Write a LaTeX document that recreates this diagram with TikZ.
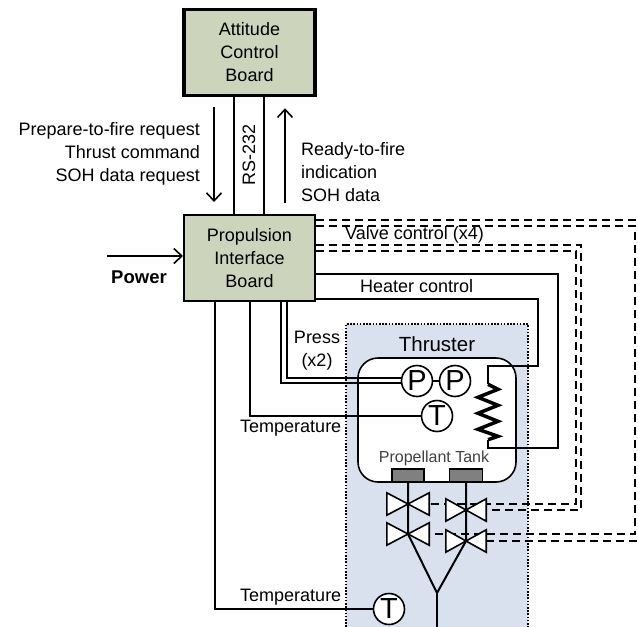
\documentclass[tikz,border=0pt]{standalone}
\usepackage{fontspec}
\setmainfont{Liberation Sans}
\usetikzlibrary{arrows.meta}
\definecolor{boardfill}{RGB}{205,212,188}
\definecolor{panelfill}{RGB}{217,225,238}
\definecolor{tankfill}{RGB}{128,128,128}

\begin{document}
\begin{tikzpicture}[x=1pt,y=-1pt,>={Straight Barb[length=8pt,width=15pt]},
  board/.style={draw,fill=boardfill,minimum width=131pt,minimum height=86pt,inner sep=0pt,
    align=center,font=\fontsize{18}{23}\selectfont},
  wire/.style={line width=2pt},
  ctrl/.style={line width=2pt,dash pattern=on 8pt off 5pt},
  sensor/.style={circle,draw,fill=white,line width=1.6pt,minimum size=31pt,inner sep=0pt,
    font=\fontsize{29}{29}\selectfont},
  valve/.style={minimum width=40pt,minimum height=22pt,inner sep=0pt},
  tank/.style={draw,line width=1.5pt,fill=tankfill,minimum height=13pt,inner sep=0pt},
  label/.style={inner sep=0pt,font=\fontsize{18}{23}\selectfont}]
  \useasboundingbox (0,0) rectangle (638,627);

  \fill[panelfill] (346,324) rectangle (528,627);
  \draw[line width=1.6pt,dash pattern=on 1.6pt off 1.6pt] (346,627) -- (346,324) -- (528,324) -- (528,627);
  \draw[line width=1.6pt,fill=white,rounded corners=20pt] (358,358) rectangle (516,482);

  \node[board,line width=3.5pt] (acb) at (249.5,52.5) {Attitude\\Control\\Board};
  \node[board,line width=2pt] (pib) at (249.5,258) {Propulsion\\Interface\\Board};

  \node[sensor] (p_1) at (417,381) {P};
  \node[sensor] (p_2) at (455,381) {P};
  \node[sensor] (t_1) at (437,416) {T};
  \node[sensor] (t_2) at (389,609) {T};
  \node[inner sep=0pt,minimum width=20pt,minimum height=55pt] (heater) at (488,412) {};

  \node[tank,minimum width=32pt] (tank_1) at (408,475.5) {};
  \node[tank,minimum width=33pt] (tank_2) at (466,475.5) {};
  \node[valve,minimum width=42pt] (v_a1) at (408,504) {};
  \node[valve,minimum width=42pt] (v_a2) at (408,534) {};
  \node[valve] (v_b1) at (466,510) {};
  \node[valve] (v_b2) at (466,541) {};
  \coordinate (merge) at (437,593);
  \coordinate (outlet) at (437,627);
  \coordinate (edge_top) at (638,220);
  \coordinate (edge_bot) at (638,541);
  \coordinate (pow_in) at (107,256);

  \draw[wire] ([xshift=-15.5pt]acb.south) -- ([xshift=-15.5pt]pib.north);
  \draw[wire] ([xshift=14.5pt]acb.south) -- ([xshift=14.5pt]pib.north);
  \draw[->,line width=1.6pt] ([xshift=-35.5pt,yshift=-10pt]acb.south) -- ([xshift=-35.5pt,yshift=12pt]pib.north);
  \draw[->,line width=1.6pt] ([xshift=35.5pt,yshift=11pt]pib.north) -- ([xshift=35.5pt,yshift=-11pt]acb.south);
  \draw[->,line width=1.6pt] (pow_in) -- (pib.west |- pow_in);

  \foreach \from/\dy/\x in {v_a1/7/576,v_b1/13/581,v_a2/32/635}
    \draw[ctrl] ([yshift=\dy pt]pib.east) -| (\x,300) |- (\from.east);
  \draw[ctrl] ([yshift=38pt]pib.east) -- (edge_top);
  \draw[ctrl] (v_b2.east) -- (edge_bot);

  \draw[wire] ([yshift=-16pt]pib.east) -| (558,448) -| (heater.south);
  \draw[wire] ([yshift=-41pt]pib.east) -| (538,366) -| (heater.north);
  \draw[line width=3.5pt] (heater.north) -- ++(10,5) -- ++(-20,8) -- ++(20,8) -- ++(-20,8)
    -- ++(20,8) -- ++(-20,8) -- ++(20,7) -- (heater.south);

  \draw[wire] ([xshift=31.5pt]pib.south) |- ([yshift=-2pt]p_1.west);
  \draw[wire] ([xshift=37.5pt]pib.south) |- ([yshift=3pt]p_1.west);
  \draw[wire] (p_1) -- (p_2);
  \draw[wire] ([xshift=0.5pt]pib.south) |- (t_1);
  \draw[wire] ([xshift=-34.5pt]pib.south) |- (t_2);

  \draw[wire] (tank_1.south) -- (v_a2.center) -- (merge);
  \draw[wire] (tank_2.south) -- (v_b2.center) -- (merge);
  \draw[wire] (merge) -- (outlet);

  \foreach \v in {v_a1,v_a2,v_b1,v_b2}
    \draw[line width=1.6pt,fill=white] (\v.north west) -- (\v.south east) -- (\v.north east) -- (\v.south west) -- cycle;

  \node[label,align=right,anchor=east] (lbl_req) at (200,154) {Prepare-to-fire request\\Thrust command\\SOH data request};
  \node[label,align=left,anchor=west] (lbl_rdy) at (301,172) {Ready-to-fire\\indication\\SOH data};
  \node[label,rotate=90] (lbl_rs) at (249,155) {RS-232};
  \node[label,font=\bfseries\fontsize{18.5}{20}\selectfont] (lbl_pow) at (139,277) {Power};
  \node[label,anchor=west] (lbl_valve) at (345,235) {Valve control (x4)};
  \node[label,anchor=west] (lbl_heat) at (360,286) {Heater control};
  \node[label,align=center] (lbl_press) at (317,351) {Press\\(x2)};
  \node[label,font=\fontsize{20.5}{24}\selectfont] (lbl_thr) at (437,344) {Thruster};
  \node[label,text=black!75,font=\fontsize{16}{20}\selectfont] (lbl_tank) at (434,458) {Propellant Tank};
  \node[label,anchor=west] (lbl_t1) at (240,428) {Temperature};
  \node[label,anchor=west] (lbl_t2) at (240,597) {Temperature};
\end{tikzpicture}
\end{document}
